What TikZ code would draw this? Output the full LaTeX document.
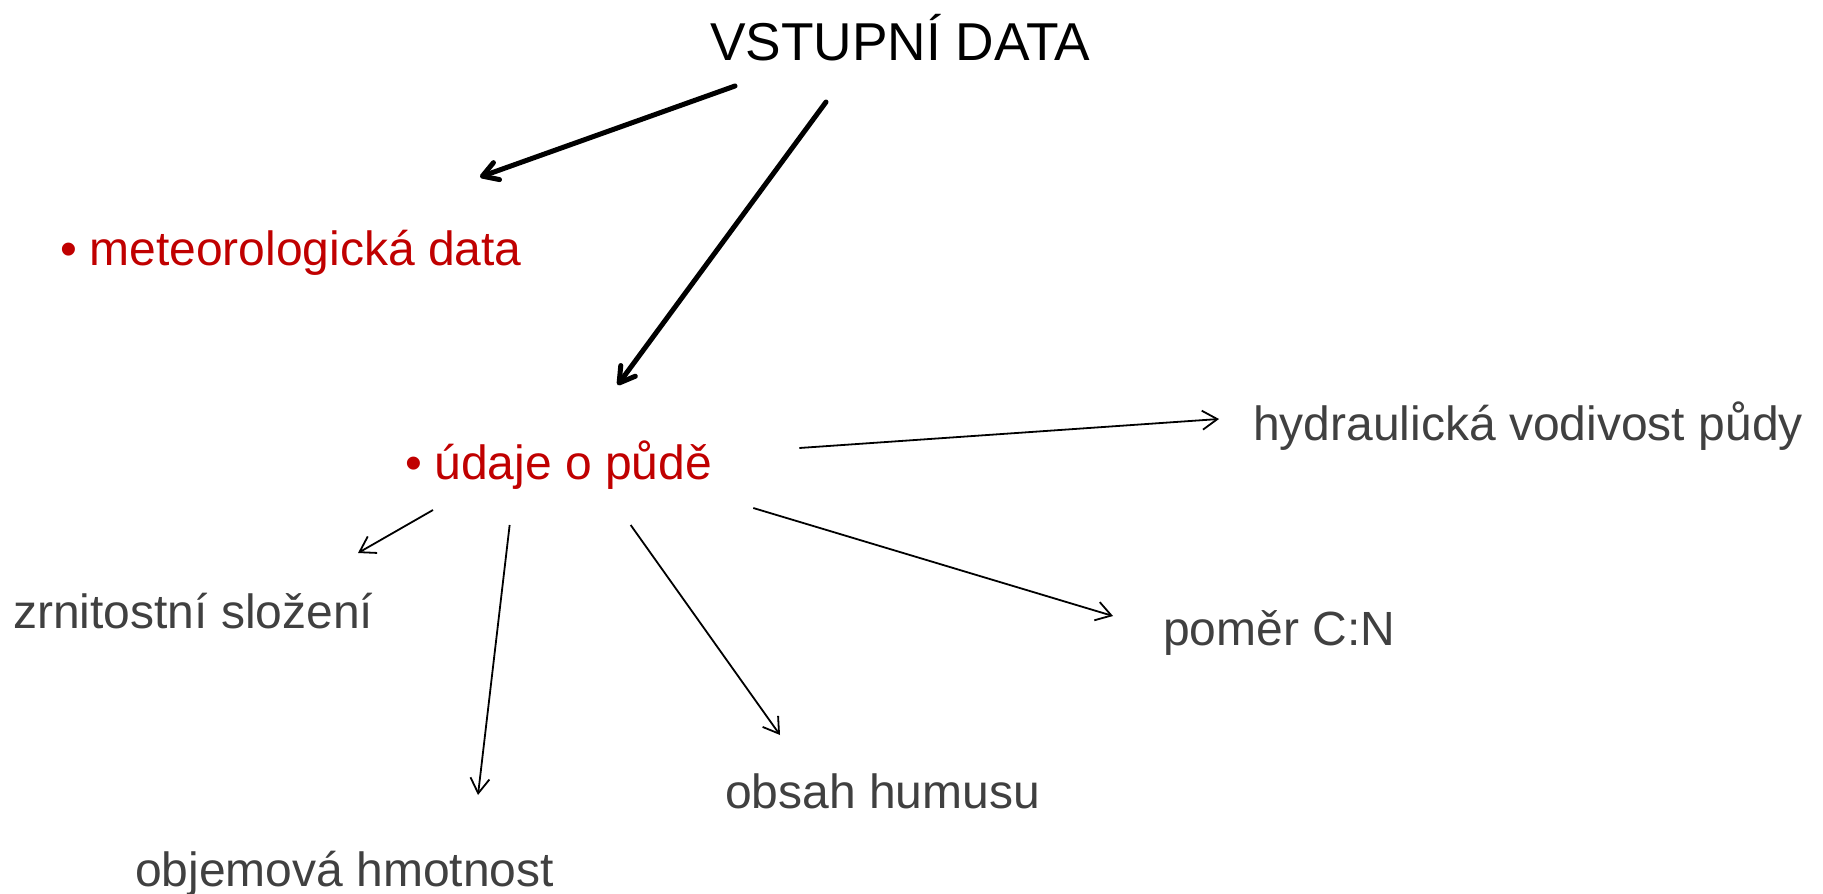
\documentclass[tikz,border=0pt]{standalone}
\usepackage{fontspec}
\setmainfont{Liberation Sans}
\usetikzlibrary{arrows.meta,calc}
\definecolor{itemred}{HTML}{C00000}
\definecolor{leafgray}{HTML}{404040}

\begin{document}
\begin{tikzpicture}[x=1pt,y=-1pt,
	head/.style={anchor=base west,inner sep=0pt,font=\fontsize{53.3}{64}\selectfont},
	item/.style={anchor=base west,inner sep=0pt,text=itemred,font=\fontsize{48}{58}\selectfont},
	leaf/.style={anchor=base west,inner sep=0pt,text=leafgray,font=\fontsize{48}{58}\selectfont},
	thickarr/.style={line width=5pt,line cap=round,-{Straight Barb[length=15pt,width=18pt,round]}},
	thinarr/.style={line width=1.8pt,-{Straight Barb[length=15pt,width=19pt]}}]
			%%%%% START %%%%%
			
			\useasboundingbox (0,0) rectangle (1823,894);
			
			\node[head] (vstup) at (710,60) {VSTUPNÍ DATA};
			
			\node[item] (meteo) at (60,265) {•\hspace{12.5pt}meteorologická data};
			\node[item] (pudy) at (405,479) {•\hspace{12.5pt}údaje o půdě};
			
			\node[leaf] (hydr) at (1253,440) {hydraulická vodivost půdy};
			\node[leaf] (zrn) at (13,628) {zrnitostní složení};
			\node[leaf] (pomer) at (1163,645) {poměr C:N};
			\node[leaf] (humus) at (725,808) {obsah humusu};
			\node[leaf] (objem) at (135,886) {objemová hmotnost};
			
			\draw[thickarr] ($(vstup.base west)+(25,26)$) -- ($(meteo.base west)+(420,-88)$);
			\draw[thickarr] ($(vstup.base west)+(116,42)$) -- ($(pudy.base)+(59,-94)$);
			
			\draw[thinarr] ($(pudy.base east)+(87,-31)$) -- ($(hydr.base west)+(-34,-21)$);
			\draw[thinarr] ($(pudy.base east)+(41,29)$) -- ($(pomer.base west)+(-50,-29)$);
			\draw[thinarr] ($(pudy.base)+(72,46)$) -- ($(humus.base west)+(55,-73)$);
			\draw[thinarr] ($(pudy.base)+(-49,46)$) -- ($(objem.base west)+(343,-91)$);
			\draw[thinarr] ($(pudy.base west)+(28,31)$) -- ($(zrn.base west)+(345,-75)$);
			
			%%%%% END %%%%%
\end{tikzpicture}
\end{document}
